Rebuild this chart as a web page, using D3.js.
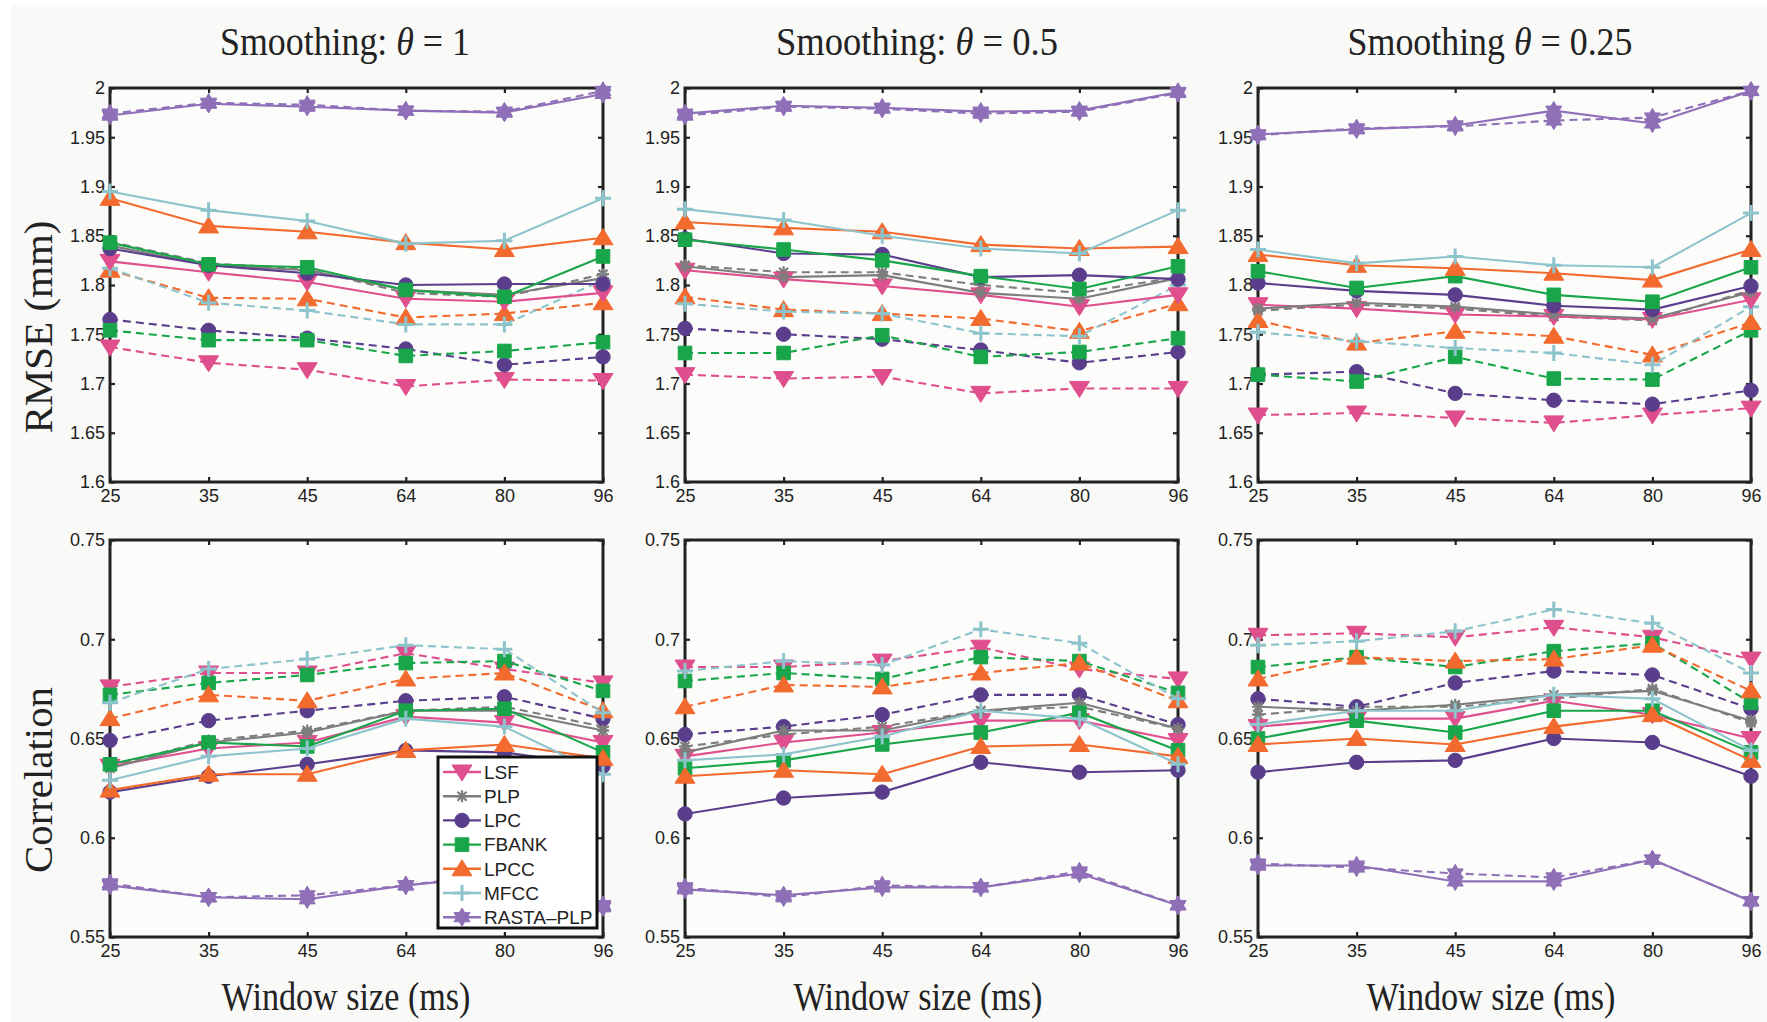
<!DOCTYPE html>
<html>
<head>
<meta charset="utf-8">
<script src="https://cdn.jsdelivr.net/npm/d3@7"></script>
<style>
  html, body { margin: 0; padding: 0; background: #ffffff; }
  svg { display: block; }
</style>
</head>
<body>
<svg id="chart" width="1767" height="1022"></svg>
<script>
// ---------------- data ----------------
const windowSizes = ["25", "35", "45", "64", "80", "96"];
const features = ["LSF", "PLP", "LPC", "FBANK", "LPCC", "MFCC", "RASTA\u2013PLP"];
const smoothingValues = ["1", "0.5", "0.25"];
const rmseTicks = [1.6, 1.65, 1.7, 1.75, 1.8, 1.85, 1.9, 1.95, 2];
const corrTicks = [0.55, 0.6, 0.65, 0.7, 0.75];

// rows follow the feature order: LSF, PLP, LPC, FBANK, LPCC, MFCC, RASTA-PLP
const rmseTheta1Solid = [
  [1.824, 1.813, 1.803, 1.786, 1.783, 1.792],
  [1.840, 1.820, 1.815, 1.795, 1.790, 1.807],
  [1.837, 1.820, 1.812, 1.800, 1.801, 1.801],
  [1.843, 1.821, 1.818, 1.795, 1.788, 1.829],
  [1.888, 1.860, 1.854, 1.843, 1.836, 1.848],
  [1.895, 1.876, 1.865, 1.842, 1.845, 1.888],
  [1.972, 1.984, 1.981, 1.977, 1.975, 1.994]
];
const rmseTheta1Dashed = [
  [1.737, 1.721, 1.714, 1.697, 1.704, 1.703],
  [1.844, 1.822, 1.816, 1.792, 1.788, 1.811],
  [1.765, 1.754, 1.746, 1.735, 1.719, 1.727],
  [1.754, 1.744, 1.744, 1.728, 1.733, 1.742],
  [1.815, 1.787, 1.786, 1.767, 1.771, 1.782],
  [1.817, 1.782, 1.774, 1.760, 1.760, 1.805],
  [1.974, 1.985, 1.983, 1.977, 1.976, 1.997]
];
const rmseTheta05Solid = [
  [1.815, 1.806, 1.799, 1.790, 1.778, 1.790],
  [1.819, 1.808, 1.810, 1.792, 1.786, 1.807],
  [1.847, 1.832, 1.831, 1.808, 1.810, 1.806],
  [1.846, 1.836, 1.825, 1.809, 1.796, 1.819],
  [1.864, 1.858, 1.854, 1.841, 1.837, 1.839],
  [1.877, 1.866, 1.850, 1.837, 1.832, 1.876],
  [1.974, 1.982, 1.980, 1.976, 1.977, 1.996]
];
const rmseTheta05Dashed = [
  [1.709, 1.705, 1.707, 1.690, 1.695, 1.695],
  [1.820, 1.813, 1.813, 1.800, 1.792, 1.808],
  [1.756, 1.750, 1.745, 1.734, 1.721, 1.732],
  [1.731, 1.731, 1.749, 1.727, 1.732, 1.746],
  [1.788, 1.775, 1.771, 1.766, 1.753, 1.781],
  [1.781, 1.773, 1.771, 1.751, 1.748, 1.800],
  [1.972, 1.981, 1.979, 1.974, 1.976, 1.995]
];
const rmseTheta025Solid = [
  [1.780, 1.776, 1.770, 1.768, 1.765, 1.785],
  [1.776, 1.782, 1.778, 1.770, 1.766, 1.793],
  [1.802, 1.794, 1.790, 1.779, 1.775, 1.799],
  [1.814, 1.797, 1.809, 1.790, 1.783, 1.818],
  [1.831, 1.820, 1.817, 1.812, 1.805, 1.836],
  [1.836, 1.822, 1.829, 1.820, 1.818, 1.873],
  [1.953, 1.958, 1.962, 1.977, 1.964, 1.997]
];
const rmseTheta025Dashed = [
  [1.668, 1.670, 1.665, 1.660, 1.668, 1.675],
  [1.774, 1.780, 1.776, 1.768, 1.764, 1.795],
  [1.709, 1.712, 1.690, 1.683, 1.679, 1.693],
  [1.709, 1.702, 1.727, 1.705, 1.704, 1.754],
  [1.764, 1.741, 1.753, 1.748, 1.729, 1.762],
  [1.752, 1.743, 1.736, 1.731, 1.719, 1.778],
  [1.952, 1.959, 1.961, 1.967, 1.970, 1.997]
];
const corrTheta1Solid = [
  [0.636, 0.645, 0.648, 0.661, 0.658, 0.648],
  [0.635, 0.648, 0.653, 0.664, 0.664, 0.654],
  [0.623, 0.631, 0.637, 0.644, 0.643, 0.636],
  [0.637, 0.648, 0.646, 0.664, 0.665, 0.643],
  [0.624, 0.632, 0.632, 0.644, 0.647, 0.640],
  [0.629, 0.641, 0.645, 0.660, 0.656, 0.632],
  [0.576, 0.570, 0.569, 0.576, 0.581, 0.565]
];
const corrTheta1Dashed = [
  [0.676, 0.683, 0.683, 0.693, 0.685, 0.678],
  [0.636, 0.649, 0.654, 0.664, 0.666, 0.656],
  [0.649, 0.659, 0.664, 0.669, 0.671, 0.660],
  [0.672, 0.678, 0.682, 0.688, 0.689, 0.674],
  [0.660, 0.672, 0.669, 0.680, 0.683, 0.664],
  [0.668, 0.685, 0.690, 0.697, 0.695, 0.663],
  [0.577, 0.570, 0.571, 0.576, 0.582, 0.566]
];
const corrTheta05Solid = [
  [0.641, 0.648, 0.653, 0.659, 0.659, 0.649],
  [0.643, 0.654, 0.654, 0.664, 0.668, 0.655],
  [0.612, 0.620, 0.623, 0.638, 0.633, 0.634],
  [0.635, 0.639, 0.647, 0.653, 0.663, 0.644],
  [0.631, 0.634, 0.632, 0.646, 0.647, 0.641],
  [0.639, 0.642, 0.651, 0.664, 0.660, 0.637],
  [0.574, 0.571, 0.575, 0.575, 0.582, 0.566]
];
const corrTheta05Dashed = [
  [0.686, 0.686, 0.689, 0.696, 0.685, 0.680],
  [0.646, 0.652, 0.656, 0.664, 0.666, 0.655],
  [0.652, 0.656, 0.662, 0.672, 0.672, 0.657],
  [0.679, 0.683, 0.680, 0.691, 0.689, 0.673],
  [0.666, 0.677, 0.676, 0.683, 0.688, 0.669],
  [0.684, 0.689, 0.687, 0.705, 0.698, 0.670],
  [0.575, 0.570, 0.576, 0.575, 0.583, 0.566]
];
const corrTheta025Solid = [
  [0.656, 0.660, 0.660, 0.669, 0.662, 0.650],
  [0.666, 0.664, 0.667, 0.672, 0.674, 0.659],
  [0.633, 0.638, 0.639, 0.650, 0.648, 0.631],
  [0.650, 0.659, 0.653, 0.664, 0.664, 0.643],
  [0.647, 0.650, 0.647, 0.656, 0.662, 0.639],
  [0.657, 0.664, 0.664, 0.672, 0.670, 0.644],
  [0.586, 0.586, 0.578, 0.578, 0.589, 0.568]
];
const corrTheta025Dashed = [
  [0.702, 0.703, 0.701, 0.706, 0.701, 0.690],
  [0.662, 0.666, 0.666, 0.670, 0.675, 0.658],
  [0.670, 0.666, 0.678, 0.684, 0.682, 0.665],
  [0.686, 0.691, 0.686, 0.694, 0.698, 0.668],
  [0.680, 0.691, 0.689, 0.690, 0.697, 0.674],
  [0.697, 0.699, 0.704, 0.715, 0.708, 0.683],
  [0.587, 0.585, 0.582, 0.580, 0.589, 0.568]
];

// ---------------- styling ----------------
const W = 1767, H = 1022;
const featureColors = ["#df4f8d", "#7d7d7d", "#5a3e8c", "#19a64a", "#f36a2e", "#8dc4cc", "#8f6fb7"];
const featureMarkers = ["triDown", "asterisk", "circle", "square", "triUp", "plus", "hexagram"];
const INK = "#222222";
const SANS = "'Liberation Sans', Arial, Helvetica, sans-serif";
const SERIF = "'Liberation Serif', 'Times New Roman', Times, serif";

const columns = [
  { x0: 110, x1: 603, labelCx: 346 },
  { x0: 685, x1: 1178, labelCx: 918 },
  { x0: 1258, x1: 1751, labelCx: 1491 }
];
const rowsLayout = [
  { y0: 88, y1: 482, domain: [1.6, 2], ticks: rmseTicks, yLabel: "RMSE (mm)", yLabelCy: 327, yLabelLen: 213 },
  { y0: 540, y1: 937, domain: [0.55, 0.75], ticks: corrTicks, yLabel: "Correlation", yLabelCy: 780, yLabelLen: 186 }
];
const titleWidths = [250, 282, 285];

const panels = [
  { row: 0, col: 0, solid: rmseTheta1Solid,   dashed: rmseTheta1Dashed },
  { row: 0, col: 1, solid: rmseTheta05Solid,  dashed: rmseTheta05Dashed },
  { row: 0, col: 2, solid: rmseTheta025Solid, dashed: rmseTheta025Dashed },
  { row: 1, col: 0, solid: corrTheta1Solid,   dashed: corrTheta1Dashed },
  { row: 1, col: 1, solid: corrTheta05Solid,  dashed: corrTheta05Dashed },
  { row: 1, col: 2, solid: corrTheta025Solid, dashed: corrTheta025Dashed }
];

// marker outlines, centred on the data point
function hexagramPath(ro, ri) {
  const pts = [];
  for (let k = 0; k < 12; k++) {
    const a = -Math.PI / 2 + k * Math.PI / 6;
    const r = k % 2 === 0 ? ro : ri;
    pts.push([r * Math.cos(a), r * Math.sin(a)]);
  }
  return "M" + pts.map(p => p[0].toFixed(2) + "," + p[1].toFixed(2)).join("L") + "Z";
}
function circlePath(r) {
  const p = d3.path();
  p.arc(0, 0, r, 0, 2 * Math.PI);
  p.closePath();
  return p.toString();
}
const markerShapes = {
  triDown:  { d: "M-10,-7L10,-7L0,9Z", filled: true },
  triUp:    { d: "M-10,7L10,7L0,-9Z", filled: true },
  circle:   { d: circlePath(7.2), filled: true },
  square:   { d: "M-6.8,-6.8L6.8,-6.8L6.8,6.8L-6.8,6.8Z", filled: true },
  plus:     { d: "M-8,0L8,0M0,-8L0,8", filled: false, width: 3 },
  asterisk: { d: "M-6,0L6,0M0,-6L0,6M-4.5,-4.5L4.5,4.5M-4.5,4.5L4.5,-4.5", filled: false, width: 2.2 },
  hexagram: { d: hexagramPath(9.2, 5.3), filled: true }
};

function drawMarker(sel, kind, color) {
  const m = markerShapes[kind];
  sel.attr("d", m.d)
    .attr("fill", m.filled ? color : "none")
    .attr("stroke", color)
    .attr("stroke-width", m.filled ? 1 : m.width)
    .attr("stroke-linejoin", "miter");
}

// text squeezed/stretched to a given width, centred on (cx, baseline)
function fittedText(parent, cx, cy, width, parts, size, rotate) {
  const t = parent.append("text")
    .attr("x", 0).attr("y", 0)
    .attr("text-anchor", "middle")
    .attr("font-family", SERIF)
    .attr("font-size", size)
    .attr("fill", INK);
  parts.forEach(p => t.append("tspan").text(p.text).attr("font-style", p.italic ? "italic" : null));
  const natural = t.node().getComputedTextLength() || width;
  const k = width / natural;
  t.attr("transform", `translate(${cx},${cy})` + (rotate ? ` rotate(${rotate})` : "") + ` scale(${k},1)`);
  return t;
}

// ---------------- drawing ----------------
const svg = d3.select("#chart");
svg.append("rect")
  .attr("x", 11).attr("y", 5)
  .attr("width", W - 11).attr("height", H - 5)
  .attr("fill", "#f9f9f7");

panels.forEach(p => {
  const c = columns[p.col], r = rowsLayout[p.row];
  const x = d3.scalePoint().domain(windowSizes).range([c.x0, c.x1]);
  const y = d3.scaleLinear().domain(r.domain).range([r.y1, r.y0]);
  const g = svg.append("g");

  // plotting area
  g.append("rect")
    .attr("x", c.x0).attr("y", r.y0)
    .attr("width", c.x1 - c.x0).attr("height", r.y1 - r.y0)
    .attr("fill", "#fcfcfb");

  const fmt = v => String(+v.toFixed(2));
  const axes = [
    g.append("g").attr("transform", `translate(0,${r.y1})`)
      .call(d3.axisBottom(x).tickSizeInner(-5).tickSizeOuter(0).tickPadding(7)),
    g.append("g").attr("transform", `translate(0,${r.y0})`)
      .call(d3.axisTop(x).tickSizeInner(-5).tickSizeOuter(0).tickFormat("")),
    g.append("g").attr("transform", `translate(${c.x0},0)`)
      .call(d3.axisLeft(y).tickValues(r.ticks).tickFormat(fmt).tickSizeInner(-5).tickSizeOuter(0).tickPadding(5)),
    g.append("g").attr("transform", `translate(${c.x1},0)`)
      .call(d3.axisRight(y).tickValues(r.ticks).tickFormat("").tickSizeInner(-5).tickSizeOuter(0))
  ];
  axes.forEach(a => {
    a.select(".domain").remove();
    a.selectAll(".tick line").attr("stroke", INK).attr("stroke-width", 2.2);
    a.selectAll(".tick text")
      .attr("fill", INK)
      .attr("font-family", SANS)
      .attr("font-size", 18);
  });

  g.append("rect")
    .attr("x", c.x0).attr("y", r.y0)
    .attr("width", c.x1 - c.x0).attr("height", r.y1 - r.y0)
    .attr("fill", "none")
    .attr("stroke", INK)
    .attr("stroke-width", 3);

  const line = d3.line()
    .x((d, i) => x(windowSizes[i]))
    .y(d => y(d));

  [["dashed", p.dashed], ["solid", p.solid]].forEach(([style, set]) => {
    set.forEach((vals, fi) => {
      const color = featureColors[fi];
      g.append("path")
        .datum(vals)
        .attr("d", line)
        .attr("fill", "none")
        .attr("stroke", color)
        .attr("stroke-width", 2.1)
        .attr("stroke-dasharray", style === "dashed" ? "8,5" : null);
      g.selectAll(null)
        .data(vals)
        .enter()
        .append("path")
        .attr("transform", (d, i) => `translate(${x(windowSizes[i])},${y(d)})`)
        .call(drawMarker, featureMarkers[fi], color);
    });
  });
});

// column titles and x-axis labels
columns.forEach((c, ci) => {
  const sep = ci === 2 ? "Smoothing " : "Smoothing: ";
  fittedText(svg, c.labelCx - 1, 55, titleWidths[ci],
    [{ text: sep }, { text: "\u03B8", italic: true }, { text: " = " + smoothingValues[ci] }], 40);
  fittedText(svg, c.labelCx, 1010, 249, [{ text: "Window size (ms)" }], 40);
});

// row labels
rowsLayout.forEach(r => {
  fittedText(svg, 52, r.yLabelCy, r.yLabelLen, [{ text: r.yLabel }], 40, -90);
});

// legend inside the lower-left panel
const legend = { x0: 438, y0: 757, x1: 597, y1: 928, firstY: 772, step: 24.2 };
const lg = svg.append("g");
lg.append("rect")
  .attr("x", legend.x0).attr("y", legend.y0)
  .attr("width", legend.x1 - legend.x0).attr("height", legend.y1 - legend.y0)
  .attr("fill", "#ffffff")
  .attr("stroke", "#111111")
  .attr("stroke-width", 3);
features.forEach((name, fi) => {
  const cy = legend.firstY + fi * legend.step;
  const color = featureColors[fi];
  lg.append("line")
    .attr("x1", legend.x0 + 5).attr("x2", legend.x0 + 43)
    .attr("y1", cy).attr("y2", cy)
    .attr("stroke", color).attr("stroke-width", 2.4);
  lg.append("path")
    .attr("transform", `translate(${legend.x0 + 24},${cy})`)
    .call(drawMarker, featureMarkers[fi], color);
  lg.append("text")
    .attr("x", legend.x0 + 46).attr("y", cy)
    .attr("dy", "0.36em")
    .attr("font-family", SANS)
    .attr("font-size", 19)
    .attr("fill", INK)
    .text(name);
});
</script>
</body>
</html>
